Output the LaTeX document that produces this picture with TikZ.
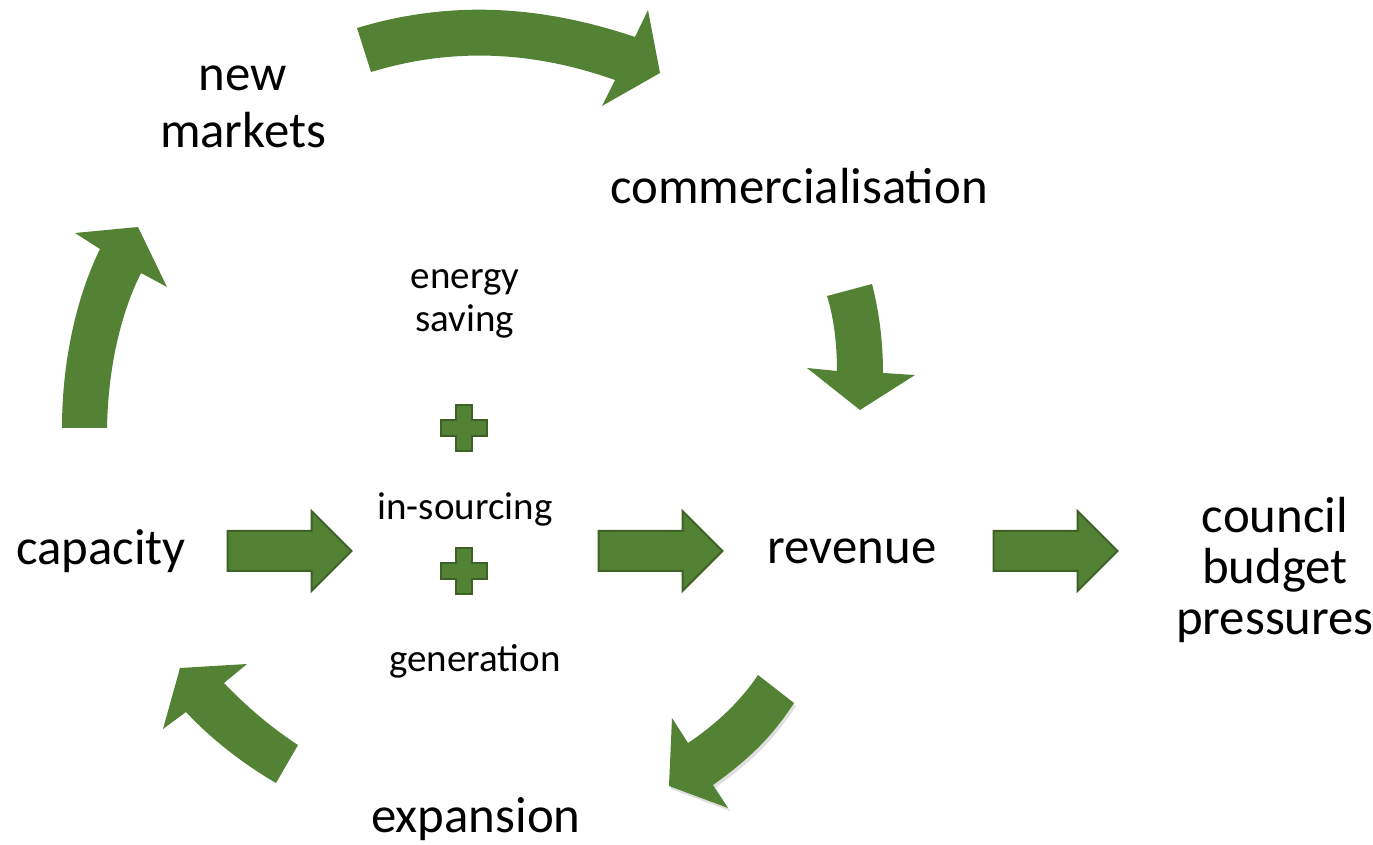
\documentclass[tikz,border=0pt]{standalone}
\usepackage{fontspec}
\setmainfont{Carlito}
\usetikzlibrary{shapes.arrows, shadows, positioning}

\definecolor{leaf}{HTML}{548235}
\definecolor{leafline}{HTML}{3D6126}

\begin{document}
\begin{tikzpicture}[
    x=0.5pt, y=-0.5pt,
    bigtext/.style={font=\fontsize{25.4pt}{25.5pt}\selectfont, align=center, inner sep=0pt},
    smalltext/.style={font=\fontsize{19.5pt}{21.5pt}\selectfont, align=center, inner sep=0pt},
    blockarrow/.style={single arrow, draw=leafline, fill=leaf, line width=1pt,
        minimum height=62pt, inner xsep=0pt, inner ysep=9.5pt,
        single arrow head extend=10pt, single arrow head indent=0pt},
    curvearrow/.style={fill=leaf},
    plus/.pic={\filldraw[leafline, fill=leaf, line width=1pt]
        (-8,-23) -- (8,-23) -- (8,-8) -- (23,-8) -- (23,8) -- (8,8) -- (8,23)
        -- (-8,23) -- (-8,8) -- (-23,8) -- (-23,-8) -- (-8,-8) -- cycle;}
]
    \useasboundingbox (0,0) rectangle (1373,845);

    % Labels
    \node[bigtext, font=\fontsize{25.4pt}{28.5pt}\selectfont] (markets) at (243,107) {new\\markets};
    \node[bigtext, anchor=base] (comm) at (799,204) {commercialisation};
    \node[bigtext, anchor=base] (capacity) at (101,565) {capacity};
    \node[bigtext, anchor=base] (revenue) at (852,564) {revenue};
    \node[bigtext] (council) at (1275,570) {council\\budget\\pressures};
    \node[bigtext, anchor=base] (expansion) at (476,832) {expansion};
    \node[smalltext] (saving) at (465,304) {energy\\saving};
    \node[smalltext, anchor=base] (insourcing) at (465,520) {in-sourcing};
    \node[smalltext, anchor=base] (generation) at (475,672) {generation};

    % Plus signs
    \pic at (464,428) {plus};
    \pic at (464,571) {plus};

    % Straight arrows
    \node[blockarrow] (a1) at (279.5,551) {};
    \node[blockarrow] (a2) at (650.5,551) {};
    \node[blockarrow] (a3) at (1045.5,551) {};

    % Curved arrows
    \fill[curvearrow] (357,28) .. controls (450,0) and (540,5) .. (635,37) -- (648,10)
        -- (660,73) -- (602,106) -- (615,80) .. controls (530,50) and (450,48) .. (371,72) -- cycle;
    \fill[curvearrow] (827,296) -- (872,284) .. controls (880,315) and (883,345) .. (883,373)
        -- (915,375) -- (860,410) -- (807,368) -- (837,371) .. controls (837,345) and (834,318) .. (827,296) -- cycle;
    \fill[curvearrow, drop shadow={shadow xshift=1pt, shadow yshift=-1.5pt, opacity=0.25}]
        (758,675) -- (794,703) .. controls (770,740) and (745,762) .. (713,785) -- (728,808)
        -- (669,786) -- (672,718) -- (688,743) .. controls (715,725) and (740,702) .. (758,675) -- cycle;
    \fill[curvearrow] (247,664) -- (224,683) .. controls (248,708) and (272,728) .. (298,745)
        -- (276,783) .. controls (245,765) and (212,740) .. (186,712) -- (163,729) -- (180,668) -- cycle;
    \fill[curvearrow] (62,428) -- (107,428) .. controls (108,370) and (120,315) .. (141,273)
        -- (167,287) -- (138,227) -- (75,233) -- (100,249) .. controls (75,300) and (62,365) .. (62,428) -- cycle;
\end{tikzpicture}
\end{document}
